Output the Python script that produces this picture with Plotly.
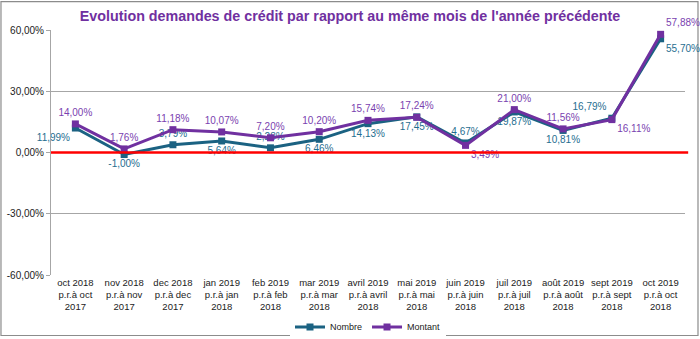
import plotly.graph_objects as go

categories = ["oct 2018<br>p.r.à oct<br>2017", "nov 2018<br>p.r.à nov<br>2017", "dec 2018<br>p.r.à dec<br>2017",
              "jan 2019<br>p.r.à jan<br>2018", "feb 2019<br>p.r.à feb<br>2018", "mar 2019<br>p.r.à mar<br>2018",
              "avril 2019<br>p.r.à avril<br>2018", "mai 2019<br>p.r.à mai<br>2018", "juin 2019<br>p.r.à juin<br>2018",
              "juil 2019<br>p.r.à juil<br>2018", "août 2019<br>p.r.à août<br>2018", "sept 2019<br>p.r.à sept<br>2018",
              "oct 2019<br>p.r.à oct<br>2018"]
nombre = [11.99, -1.00, 3.79, 5.64, 2.28, 6.46, 14.13, 17.45, 4.67, 19.87, 10.81, 16.79, 55.70]
montant = [14.00, 1.76, 11.18, 10.07, 7.20, 10.20, 15.74, 17.24, 3.49, 21.00, 11.56, 16.11, 57.88]
y_ticks = [-60, -30, 0, 30, 60]
y_ticklabels = ["-60,00%", "-30,00%", "0,00%", "30,00%", "60,00%"]

def fmt(v):
    return ("%.2f" % v).replace(".", ",") + "%"

nombre_pos = ["bottom left", "bottom center", "top center", "bottom center", "top center", "bottom center",
              "bottom center", "bottom center", "top center", "bottom center", "bottom center", "top left", "bottom right"]
montant_pos = ["top center", "top center", "top center", "top center", "top center", "top center",
               "top center", "top center", "bottom right", "top center", "top center", "bottom right", "top right"]

x = list(range(len(categories)))
teal = "#1B6282"
purple = "#7030A0"

fig = go.Figure()
fig.add_trace(go.Scatter(
    x=x, y=nombre, name="Nombre", mode="lines+markers+text",
    line=dict(color=teal, width=3), marker=dict(symbol="square", size=7, color=teal),
    text=[fmt(v) for v in nombre], textposition=nombre_pos,
    textfont=dict(color="#1F6E90", size=10, family="Liberation Sans, Arial"),
    cliponaxis=False))
fig.add_trace(go.Scatter(
    x=x, y=montant, name="Montant", mode="lines+markers+text",
    line=dict(color=purple, width=3), marker=dict(symbol="square", size=7, color=purple),
    text=[fmt(v) for v in montant], textposition=montant_pos,
    textfont=dict(color="#7A3FB0", size=10, family="Liberation Sans, Arial"),
    cliponaxis=False))

fig.add_shape(type="line", xref="paper", yref="y", x0=0, x1=1.005, y0=0, y1=0,
              line=dict(color="#FF0000", width=2.5), layer="above")
fig.add_shape(type="rect", xref="paper", yref="paper", x0=-0.0789, x1=1.0205, y0=-0.247, y1=1.116,
              line=dict(color="#8C8C8C", width=1.2), layer="below")

fig.update_layout(
    width=700, height=339,
    margin=dict(l=51, r=15, t=30, b=64, autoexpand=False),
    paper_bgcolor="white", plot_bgcolor="white",
    font=dict(family="Liberation Sans, Arial", size=10, color="#222222"),
    title=dict(text="<b>Evolution demandes de crédit par rapport au même mois de l'année précédente</b>",
               x=0.5, xanchor="center", y=0.953, yanchor="middle",
               font=dict(size=14.3, color=purple, family="Liberation Sans, Arial")),
    xaxis=dict(tickvals=x, ticktext=categories, range=[-0.5, len(categories) - 0.5],
               showgrid=False, zeroline=False, showline=False, ticks="", automargin=False,
               tickfont=dict(size=9.5, color="#222222")),
    yaxis=dict(tickvals=y_ticks, ticktext=y_ticklabels, range=[-60, 60], automargin=False,
               showgrid=True, gridcolor="#A6A6A6", gridwidth=1, zeroline=False,
               showline=True, linecolor="#A6A6A6", linewidth=1, ticks="outside", ticklen=4,
               tickcolor="#A6A6A6", tickfont=dict(size=10, color="#222222")),
    legend=dict(orientation="h", x=0.5, xanchor="center", y=-0.212, yanchor="middle",
                font=dict(size=9, color="#222222"), itemwidth=30),
    showlegend=True,
)

fig.write_html("out.html")
